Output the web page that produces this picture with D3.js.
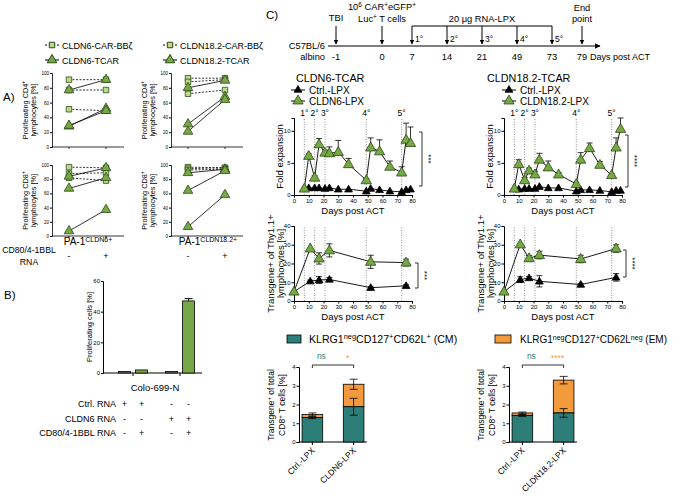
<!DOCTYPE html>
<html>
<head>
<meta charset="utf-8">
<script src="https://cdn.jsdelivr.net/npm/d3@7"></script>
<style>
  body { margin: 0; background: #fff; }
  svg { font-family: 'Liberation Sans', Arial, sans-serif; }
</style>
</head>
<body>
<script>
// ---------- Panel A data: [before, after] per donor ----------
const aCd4Cldn6Car = [[91, 91], [77, 77], [51, 49]];
const aCd4Cldn6Tcar = [[77, 91], [28, 52], [29, 49]];
const aCd4Cldn18Car = [[93, 93], [88, 91], [72, 77]];
const aCd4Cldn18Tcar = [[80, 90], [31, 68], [21, 64]];
const aCd8Cldn6Car = [[97, 96], [88, 89], [82, 78]];
const aCd8Cldn6Tcar = [[84, 96], [67, 82], [7, 37]];
const aCd8Cldn18Car = [[97, 96], [95, 96], [93, 94]];
const aCd8Cldn18Tcar = [[89, 94], [64, 92], [13, 58]];
const aTicks = [0, 20, 40, 60, 80, 100];

// ---------- Panel B data ----------
const bGroups = ['Ctrl', 'CLDN6'];
const bCostim = ['-', '+'];
const bValues = [[1.0, 2.0], [1.0, 47.0]];
const bErrors = [[0.2, 0.3], [0.3, 1.5]];
const bRowLabels = ['Ctrl. RNA', 'CLDN6 RNA', 'CD80/4-1BBL RNA'];
const bRowSigns = [['+', '+', '-', '-'], ['-', '-', '+', '+'], ['-', '+', '-', '+']];

// ---------- Panel C timeline ----------
const tlDays = ['-1', '0', '7', '14', '21', '49', '73', '79'];
const tlDoses = ['7', '14', '21', '49', '73'];
const tlDoseLabels = ['1°', '2°', '3°', '4°', '5°'];

// ---------- Panel C fold expansion ----------
const foldDays = [7, 10, 14, 17, 21, 24, 30, 37, 49, 52, 58, 65, 73, 76, 79];
const foldCldn6 = [1.0, 6.1, 2.7, 7.9, 6.6, 6.5, 6.7, 4.8, 2.3, 7.4, 6.8, 4.4, 3.5, 8.6, 8.1];
const foldCldn6Sd = [0, 0.3, 0.3, 0.9, 0.4, 1.0, 1.8, 0.9, 0.3, 1.5, 1.8, 0.9, 0.9, 2.6, 2.5];
const foldCtrl6 = [1.0, 1.1, 1.1, 1.1, 1.0, 1.1, 0.9, 0.9, 0.6, 1.0, 0.8, 0.6, 0.5, 0.8, 0.9];
const foldCldn18 = [1.0, 4.8, 2.3, 3.8, 3.2, 5.5, 4.3, 3.2, 1.7, 5.5, 7.3, 4.7, 3.1, 7.4, 10.3];
const foldCldn18Sd = [0, 0.7, 0.4, 0.4, 0.5, 1.0, 1.0, 0.3, 0.3, 1.1, 0.8, 0.5, 0.2, 1.5, 1.7];
const foldCtrl18 = [1.0, 0.9, 1.0, 1.0, 1.0, 1.3, 1.1, 1.1, 0.6, 0.8, 0.8, 0.7, 0.5, 0.7, 0.7];
const vlineDays = [7, 14, 21, 49, 73];

// ---------- Panel C transgene+ ----------
const tgDays = [0, 11, 17, 24, 52, 76];
const tgCldn6 = [5, 28, 22.7, 27, 20.9, 20.5];
const tgCldn6Sd = [0, 0, 3, 3.5, 3.5, 1.8];
const tgCtrl6 = [5, 10.6, 11.2, 11.5, 7.1, 8.1];
const tgCtrl6Sd = [0, 0.5, 1.8, 1, 0.5, 0.6];
const tgCldn18 = [5, 30.2, 22.8, 24.5, 22.4, 28];
const tgCldn18Sd = [0, 0, 1.5, 2, 2, 2];
const tgCtrl18 = [5, 11.4, 12.3, 10.5, 8.8, 12.6];
const tgCtrl18Sd = [0, 1.5, 0.8, 3, 0.6, 2];

// ---------- Panel C memory subsets ----------
const memCats6 = ['Ctrl.-LPX', 'CLDN6-LPX'];
const memCats18 = ['Ctrl.-LPX', 'CLDN18.2-LPX'];
const cm6 = [1.3, 1.88];
const cm6Sd = [0.05, 0.45];
const em6 = [0.17, 1.2];
const em6Sd = [0.08, 0.27];
const cm18 = [1.42, 1.55];
const cm18Sd = [0.05, 0.23];
const em18 = [0.13, 1.75];
const em18Sd = [0.05, 0.2];

const GREEN = '#76a845', LIGHTGREEN = '#bcd98c', DARK = '#2c4a14';
const TEAL = '#2d7e78', ORANGE = '#f39b3c';

const svg = d3.select('body').append('svg').attr('width', 680).attr('height', 498);

// text with superscript parts: [[text, 'sup'?], ...]
function rich(g, x, y, parts, size, anchor, rotate) {
    const t = g.append('text').attr('x', x).attr('y', y)
        .attr('font-size', size).attr('text-anchor', anchor || 'start');
    if (rotate) t.attr('transform', `rotate(${rotate},${x},${y})`);
    parts.forEach(p => {
        const s = t.append('tspan').text(p[0]);
        if (p[1] === 'sup') s.attr('baseline-shift', 'super').attr('font-size', size * 0.7);
    });
    return t;
}

function tri(size) { return d3.symbol(d3.symbolTriangle, size)(); }
function sqr(size) { return d3.symbol(d3.symbolSquare, size)(); }
const fmtInt = d3.format('d');

// ================= PANEL A =================
svg.append('text').attr('x', 3).attr('y', 101).attr('font-size', 11.5).text('A)');

function legendA(x, y, name) {
    const g = svg.append('g');
    g.append('line').attr('x1', x - 7).attr('x2', x + 7).attr('y1', y).attr('y2', y)
        .attr('stroke', '#000').attr('stroke-dasharray', '2,2');
    g.append('path').attr('d', sqr(30)).attr('transform', `translate(${x},${y})`)
        .attr('fill', LIGHTGREEN).attr('stroke', DARK);
    g.append('text').attr('x', x + 10).attr('y', y + 3.5).attr('font-size', 9).text(name + '-CAR-BBζ');
    g.append('line').attr('x1', x - 7).attr('x2', x + 7).attr('y1', y + 15).attr('y2', y + 15).attr('stroke', '#000');
    g.append('path').attr('d', tri(40)).attr('transform', `translate(${x},${y + 15})`)
        .attr('fill', GREEN).attr('stroke', DARK);
    g.append('text').attr('x', x + 10).attr('y', y + 18.5).attr('font-size', 9).text(name + '-TCAR');
}
legendA(52, 45, 'CLDN6');
legendA(170, 45, 'CLDN18.2');

function pairPlot(ax, yTop, yBot, carData, tcarData, cd) {
    const g = svg.append('g');
    const y = d3.scaleLinear().domain([0, 100]).range([yBot, yTop]);
    const x = d3.scalePoint().domain(['-', '+']).range([ax + 17, ax + 54]);
    g.append('g').attr('transform', `translate(${ax},0)`)
        .call(d3.axisLeft(y).tickValues(aTicks).tickFormat(fmtInt).tickSize(2).tickPadding(1))
        .call(s => s.selectAll('text').attr('font-size', 4.5).attr('font-family', 'Liberation Sans, Arial'))
        .call(s => s.select('.domain').attr('stroke-width', 0.8));
    g.append('line').attr('x1', ax).attr('x2', ax + 72).attr('y1', yBot).attr('y2', yBot)
        .attr('stroke', '#000').attr('stroke-width', 0.8);
    ['-', '+'].forEach(k => g.append('line').attr('x1', x(k)).attr('x2', x(k))
        .attr('y1', yBot).attr('y2', yBot + 2).attr('stroke', '#000').attr('stroke-width', 0.8));
    carData.forEach(d => g.append('line').attr('x1', x('-')).attr('x2', x('+'))
        .attr('y1', y(d[0])).attr('y2', y(d[1])).attr('stroke', '#000').attr('stroke-width', 0.8)
        .attr('stroke-dasharray', '2,1.5'));
    tcarData.forEach(d => g.append('line').attr('x1', x('-')).attr('x2', x('+'))
        .attr('y1', y(d[0])).attr('y2', y(d[1])).attr('stroke', '#000').attr('stroke-width', 0.8));
    carData.forEach(d => ['-', '+'].forEach((k, i) => g.append('path').attr('d', sqr(30))
        .attr('transform', `translate(${x(k)},${y(d[i])})`).attr('fill', LIGHTGREEN).attr('stroke', DARK).attr('stroke-width', 0.8)));
    tcarData.forEach(d => ['-', '+'].forEach((k, i) => g.append('path').attr('d', tri(40))
        .attr('transform', `translate(${x(k)},${y(d[i])})`).attr('fill', GREEN).attr('stroke', DARK).attr('stroke-width', 0.8)));
    const cy = (yTop + yBot) / 2;
    rich(g, ax - 24, cy, [['Proliferating CD' + cd], ['+', 'sup']], 7.3, 'middle', -90);
    rich(g, ax - 16, cy, [['lymphocytes [%]']], 7.3, 'middle', -90);
    return x;
}
const xA1 = pairPlot(52, 73, 147, aCd4Cldn6Car, aCd4Cldn6Tcar, '4');
const xA2 = pairPlot(171, 73, 147, aCd4Cldn18Car, aCd4Cldn18Tcar, '4');
pairPlot(52, 165, 236, aCd8Cldn6Car, aCd8Cldn6Tcar, '8');
pairPlot(171, 165, 236, aCd8Cldn18Car, aCd8Cldn18Tcar, '8');

rich(svg, 88, 245, [['PA-1'], ['CLDN6+', 'sup']], 10, 'middle');
rich(svg, 208, 245, [['PA-1'], ['CLDN18.2+', 'sup']], 10, 'middle');
svg.append('text').attr('x', 29).attr('y', 253).attr('font-size', 8.7).attr('text-anchor', 'middle').text('CD80/4-1BBL');
svg.append('text').attr('x', 29).attr('y', 265).attr('font-size', 8.7).attr('text-anchor', 'middle').text('RNA');
[xA1, xA2].forEach(x => ['-', '+'].forEach(k => svg.append('text').attr('x', x(k)).attr('y', 259)
    .attr('font-size', 9).attr('text-anchor', 'middle').text(k)));

// ================= PANEL B =================
svg.append('text').attr('x', 4).attr('y', 299).attr('font-size', 11.5).text('B)');
(function () {
    const g = svg.append('g');
    const y = d3.scaleLinear().domain([0, 60]).range([373, 281]);
    const xg = d3.scalePoint().domain(bGroups).range([133, 180]);
    const xi = d3.scaleBand().domain(bCostim).range([-14.5, 14.5]).paddingInner(0.3);
    g.append('g').attr('transform', 'translate(103,0)')
        .call(d3.axisLeft(y).tickValues([0, 20, 40, 60]).tickFormat(fmtInt).tickSize(2).tickPadding(1))
        .call(s => s.selectAll('text').attr('font-size', 6).attr('font-family', 'Liberation Sans, Arial'));
    g.append('line').attr('x1', 103).attr('x2', 202).attr('y1', 373).attr('y2', 373).attr('stroke', '#000');
    bGroups.forEach(k => g.append('line').attr('x1', xg(k)).attr('x2', xg(k)).attr('y1', 373).attr('y2', 376).attr('stroke', '#000'));
    bGroups.forEach((grp, gi) => bCostim.forEach((c, ci) => {
        const v = bValues[gi][ci], e = bErrors[gi][ci];
        const x0 = xg(grp) + xi(c), w = xi.bandwidth();
        g.append('rect').attr('x', x0).attr('y', y(v)).attr('width', w).attr('height', y(0) - y(v))
            .attr('fill', ci ? GREEN : '#777').attr('stroke', '#000').attr('stroke-width', 0.8);
        if (v > 5) {
            g.append('line').attr('x1', x0 + w / 2).attr('x2', x0 + w / 2).attr('y1', y(v)).attr('y2', y(v + e)).attr('stroke', '#000');
            g.append('line').attr('x1', x0 + 2).attr('x2', x0 + w - 2).attr('y1', y(v + e)).attr('y2', y(v + e)).attr('stroke', '#000');
        }
    }));
    g.append('text').attr('x', 92).attr('y', 327).attr('font-size', 7.5).attr('text-anchor', 'middle')
        .attr('transform', 'rotate(-90,92,327)').text('Proliferating cells [%]');
    g.append('text').attr('x', 155).attr('y', 391).attr('font-size', 9.5).attr('text-anchor', 'middle').text('Colo-699-N');
    bRowLabels.forEach((lab, r) => {
        const yy = 407 + r * 14.5;
        g.append('text').attr('x', 116).attr('y', yy).attr('font-size', 9).attr('text-anchor', 'end').text(lab);
        bRowSigns[r].forEach((s, i) => {
            const grp = bGroups[Math.floor(i / 2)], c = bCostim[i % 2];
            g.append('text').attr('x', xg(grp) + xi(c) + xi.bandwidth() / 2).attr('y', yy)
                .attr('font-size', 9).attr('text-anchor', 'middle').text(s);
        });
    });
})();

// ================= PANEL C timeline =================
svg.append('text').attr('x', 266).attr('y', 19).attr('font-size', 11.5).text('C)');
(function () {
    const g = svg.append('g');
    const defs = svg.append('defs');
    defs.append('marker').attr('id', 'ah').attr('viewBox', '0 0 10 10').attr('refX', 9).attr('refY', 5)
        .attr('markerWidth', 5).attr('markerHeight', 5).attr('orient', 'auto')
        .append('path').attr('d', 'M0,0L10,5L0,10z').attr('fill', '#000');
    const tx = d3.scaleLinear().domain([0, 1, 2, 6, 7]).range([336, 382, 412, 552, 582]);
    const x = d => tx(tlDays.indexOf(d));
    const fs = 9.3;
    g.append('line').attr('x1', 328).attr('x2', 600).attr('y1', 46).attr('y2', 46)
        .attr('stroke', '#000').attr('stroke-width', 1.2).attr('marker-end', 'url(#ah)');
    g.append('text').attr('x', 325).attr('y', 49).attr('font-size', fs).attr('text-anchor', 'end').text('C57BL/6');
    g.append('text').attr('x', 325).attr('y', 60).attr('font-size', fs).attr('text-anchor', 'end').text('albino');
    tlDays.forEach(d => g.append('text').attr('x', x(d)).attr('y', 60).attr('font-size', fs)
        .attr('text-anchor', 'middle').text(d));
    g.append('text').attr('x', 590).attr('y', 60).attr('font-size', 9).text('Days post ACT');
    const down = (xx, y1) => g.append('line').attr('x1', xx).attr('x2', xx).attr('y1', y1).attr('y2', 44)
        .attr('stroke', '#000').attr('marker-end', 'url(#ah)');
    down(x('-1'), 26); down(x('0'), 26); down(x('79'), 26);
    g.append('text').attr('x', x('-1')).attr('y', 21).attr('font-size', fs).attr('text-anchor', 'middle').text('TBI');
    rich(g, x('0'), 10, [['10'], ['6', 'sup'], [' CAR'], ['+', 'sup'], ['eGFP'], ['+', 'sup']], fs, 'middle');
    rich(g, x('0'), 22, [['Luc'], ['+', 'sup'], [' T cells']], fs, 'middle');
    g.append('text').attr('x', x('79')).attr('y', 11).attr('font-size', fs).attr('text-anchor', 'middle').text('End');
    g.append('text').attr('x', x('79')).attr('y', 22).attr('font-size', fs).attr('text-anchor', 'middle').text('point');
    g.append('line').attr('x1', x('7')).attr('x2', x('73')).attr('y1', 26).attr('y2', 26).attr('stroke', '#000');
    g.append('text').attr('x', (x('7') + x('73')) / 2).attr('y', 22).attr('font-size', fs).attr('text-anchor', 'middle').text('20 μg RNA-LPX');
    tlDoses.forEach((d, i) => {
        g.append('line').attr('x1', x(d)).attr('x2', x(d)).attr('y1', 26).attr('y2', 44)
            .attr('stroke', '#000').attr('marker-end', 'url(#ah)');
        g.append('text').attr('x', x(d) + 3).attr('y', 42).attr('font-size', 8.5).text(tlDoseLabels[i]);
    });
})();

// ================= PANEL C line charts =================
function lineChart(cfg) {
    const g = svg.append('g');
    const x = d3.scaleLinear().domain([0, 80]).range([cfg.xl, cfg.xl + 118]);
    const y = d3.scaleLinear().domain(cfg.yDomain).range([cfg.y0, cfg.yTop]);
    vlineDays.forEach(d => g.append('line').attr('x1', x(d)).attr('x2', x(d)).attr('y1', cfg.y0).attr('y2', cfg.vTop)
        .attr('stroke', '#777').attr('stroke-width', 0.8).attr('stroke-dasharray', '1,1.5'));
    if (cfg.doseLabels) vlineDays.forEach((d, i) => g.append('text').attr('x', x(d)).attr('y', cfg.vTop - 2)
        .attr('font-size', 8.5).attr('text-anchor', 'middle').text(tlDoseLabels[i]));
    g.append('g').attr('transform', `translate(${cfg.xl},0)`)
        .call(d3.axisLeft(y).tickValues(cfg.yTicks).tickFormat(fmtInt).tickSize(2.5).tickPadding(1))
        .call(s => s.selectAll('text').attr('font-size', 6).attr('font-family', 'Liberation Sans, Arial'));
    g.append('g').attr('transform', `translate(0,${cfg.y0})`)
        .call(d3.axisBottom(x).tickValues(d3.range(0, 81, 10)).tickFormat(fmtInt).tickSize(2.5).tickPadding(1))
        .call(s => s.selectAll('text').attr('font-size', 6).attr('font-family', 'Liberation Sans, Arial'));
    g.append('text').attr('x', x(40)).attr('y', cfg.y0 + 19).attr('font-size', 9.5).attr('text-anchor', 'middle').text('Days post ACT');
    const line = d3.line().x(d => x(d[0])).y(d => y(d[1]));
    const series = [[cfg.black, cfg.blackSd, '#000', 26], [cfg.green, cfg.greenSd, GREEN, 46]];
    series.forEach(([vals]) => {
        const pts = cfg.days.map((d, i) => [d, vals[i]]);
        g.append('path').attr('d', line(pts)).attr('fill', 'none').attr('stroke', '#000').attr('stroke-width', 0.9);
    });
    series.forEach(([vals, sd]) => {
        if (!sd) return;
        cfg.days.forEach((d, i) => {
            if (!sd[i]) return;
            const lo = cfg.both ? vals[i] - sd[i] : vals[i];
            const hi = vals[i] + sd[i];
            g.append('line').attr('x1', x(d)).attr('x2', x(d)).attr('y1', y(lo)).attr('y2', y(hi)).attr('stroke', '#000').attr('stroke-width', 0.8);
            g.append('line').attr('x1', x(d) - 3).attr('x2', x(d) + 3).attr('y1', y(hi)).attr('y2', y(hi)).attr('stroke', '#000').attr('stroke-width', 0.8);
            if (cfg.both) g.append('line').attr('x1', x(d) - 3).attr('x2', x(d) + 3).attr('y1', y(lo)).attr('y2', y(lo)).attr('stroke', '#000').attr('stroke-width', 0.8);
        });
    });
    series.forEach(([vals, sd, col, sz]) => {
        cfg.days.forEach((d, i) => g.append('path').attr('d', tri(sz))
            .attr('transform', `translate(${x(d)},${y(vals[i]) + 0.5})`)
            .attr('fill', col).attr('stroke', col === '#000' ? '#000' : DARK).attr('stroke-width', 0.8));
    });
    // significance bracket
    const bx = cfg.xl + 118 + cfg.sigGap;
    g.append('path').attr('d', `M${bx - 3},${cfg.sig[0]}H${bx}V${cfg.sig[1]}H${bx - 3}`)
        .attr('fill', 'none').attr('stroke', '#000').attr('stroke-width', 0.8);
    const my = (cfg.sig[0] + cfg.sig[1]) / 2;
    g.append('text').attr('x', bx + 4).attr('y', my).attr('font-size', 8).attr('text-anchor', 'middle')
        .attr('transform', `rotate(90,${bx + 4},${my})`).text(cfg.stars);
    // y label
    const cy = (cfg.y0 + cfg.yTop) / 2;
    cfg.ylab.forEach((txt, i) => g.append('text').attr('x', cfg.ylabX[i]).attr('y', cy)
        .attr('font-size', 9.5).attr('text-anchor', 'middle')
        .attr('transform', `rotate(-90,${cfg.ylabX[i]},${cy})`).text(txt));
}

// titles + legends
svg.append('text').attr('x', 296).attr('y', 82).attr('font-size', 10.8).text('CLDN6-TCAR');
svg.append('text').attr('x', 487).attr('y', 82).attr('font-size', 10.8).text('CLDN18.2-TCAR');
function legendC(x, name) {
    [['Ctrl.-LPX', '#000', 26, 90], [name, GREEN, 46, 101]].forEach(([lab, col, sz, yy]) => {
        svg.append('line').attr('x1', x - 7).attr('x2', x + 7).attr('y1', yy).attr('y2', yy).attr('stroke', '#000');
        svg.append('path').attr('d', tri(sz)).attr('transform', `translate(${x},${yy})`)
            .attr('fill', col).attr('stroke', col === '#000' ? '#000' : DARK).attr('stroke-width', 0.8);
        svg.append('text').attr('x', x + 11).attr('y', yy + 3.5).attr('font-size', 10).text(lab);
    });
}
legendC(298, 'CLDN6-LPX');
legendC(509, 'CLDN18.2-LPX');

lineChart({ xl: 294, y0: 195, yTop: 118, vTop: 118, yDomain: [0, 12], yTicks: [0, 5, 10], doseLabels: true,
    days: foldDays, green: foldCldn6, greenSd: foldCldn6Sd, black: foldCtrl6, blackSd: null, both: false,
    sig: [132, 186], sigGap: 10, stars: '***', ylab: ['Fold expansion'], ylabX: [283] });
lineChart({ xl: 504, y0: 195, yTop: 118, vTop: 118, yDomain: [0, 12], yTicks: [0, 5, 10], doseLabels: true,
    days: foldDays, green: foldCldn18, greenSd: foldCldn18Sd, black: foldCtrl18, blackSd: null, both: false,
    sig: [135, 187], sigGap: 6, stars: '****', ylab: ['Fold expansion'], ylabX: [493] });
const tgLab = ['Transgene+ of Thy1.1+', 'lymphocytes [%]'];
lineChart({ xl: 294, y0: 301, yTop: 226, vTop: 226, yDomain: [0, 40], yTicks: [0, 10, 20, 30, 40], doseLabels: false,
    days: tgDays, green: tgCldn6, greenSd: tgCldn6Sd, black: tgCtrl6, blackSd: tgCtrl6Sd, both: true,
    sig: [263, 288], sigGap: 6, stars: '***', ylab: tgLab, ylabX: [274, 284] });
lineChart({ xl: 504, y0: 301, yTop: 226, vTop: 226, yDomain: [0, 40], yTicks: [0, 10, 20, 30, 40], doseLabels: false,
    days: tgDays, green: tgCldn18, greenSd: tgCldn18Sd, black: tgCtrl18, blackSd: tgCtrl18Sd, both: true,
    sig: [250, 277], sigGap: 4, stars: '****', ylab: tgLab, ylabX: [484, 494] });

// ================= PANEL C stacked bars =================
function stackChart(cfg) {
    const g = svg.append('g');
    const y = d3.scaleLinear().domain([0, 4]).range([442, 367]);
    const x = d3.scaleBand().domain(cfg.cats).range([cfg.ax + 1, cfg.ax + 67]).paddingInner(0.5).paddingOuter(0.05);
    g.append('g').attr('transform', `translate(${cfg.ax},0)`)
        .call(d3.axisLeft(y).tickValues([0, 1, 2, 3, 4]).tickFormat(fmtInt).tickSize(2.5).tickPadding(1))
        .call(s => s.selectAll('text').attr('font-size', 6).attr('font-family', 'Liberation Sans, Arial'));
    g.append('line').attr('x1', cfg.ax).attr('x2', cfg.ax + 68).attr('y1', 442).attr('y2', 442).attr('stroke', '#000');
    cfg.cats.forEach((c, i) => {
        const x0 = x(c), w = x.bandwidth(), cx = x0 + w / 2;
        g.append('line').attr('x1', cx).attr('x2', cx).attr('y1', 442).attr('y2', 445).attr('stroke', '#000');
        const tot = cfg.cm[i] + cfg.em[i];
        g.append('rect').attr('x', x0).attr('y', y(tot)).attr('width', w).attr('height', y(cfg.cm[i]) - y(tot))
            .attr('fill', ORANGE).attr('stroke', '#000').attr('stroke-width', 0.8);
        g.append('rect').attr('x', x0).attr('y', y(cfg.cm[i])).attr('width', w).attr('height', y(0) - y(cfg.cm[i]))
            .attr('fill', TEAL).attr('stroke', '#000').attr('stroke-width', 0.8);
        [[cfg.cm[i], cfg.cmSd[i]], [tot, cfg.emSd[i]]].forEach(([v, e]) => {
            g.append('line').attr('x1', cx).attr('x2', cx).attr('y1', y(v - e)).attr('y2', y(v + e)).attr('stroke', '#000').attr('stroke-width', 0.8);
            g.append('line').attr('x1', cx - 4).attr('x2', cx + 4).attr('y1', y(v + e)).attr('y2', y(v + e)).attr('stroke', '#000').attr('stroke-width', 0.8);
            g.append('line').attr('x1', cx - 4).attr('x2', cx + 4).attr('y1', y(v - e)).attr('y2', y(v - e)).attr('stroke', '#000').attr('stroke-width', 0.8);
        });
        g.append('text').attr('x', cx + 3).attr('y', 451).attr('font-size', 8.5).attr('text-anchor', 'end')
            .attr('transform', `rotate(-45,${cx + 3},451)`).text(c);
    });
    const c1 = x(cfg.cats[0]) + x.bandwidth() / 2, c2 = x(cfg.cats[1]) + x.bandwidth() / 2;
    g.append('path').attr('d', `M${c1},368V365H${c2}V368`).attr('fill', 'none').attr('stroke', '#000').attr('stroke-width', 0.8);
    g.append('text').attr('x', c1 + 9).attr('y', 359).attr('font-size', 8.5).attr('fill', TEAL).attr('text-anchor', 'middle').text('ns');
    g.append('text').attr('x', c2 - 6).attr('y', 361).attr('font-size', 8.5).attr('fill', ORANGE).attr('text-anchor', 'middle').text(cfg.stars);
    rich(g, cfg.ax - 25, 405, [['Transgene'], ['+', 'sup'], [' of total']], 8.5, 'middle', -90);
    rich(g, cfg.ax - 14, 405, [['CD8'], ['+', 'sup'], [' T cells [%]']], 8.5, 'middle', -90);
}
stackChart({ ax: 299, cats: memCats6, cm: cm6, cmSd: cm6Sd, em: em6, emSd: em6Sd, stars: '*' });
stackChart({ ax: 509, cats: memCats18, cm: cm18, cmSd: cm18Sd, em: em18, emSd: em18Sd, stars: '****' });

svg.append('rect').attr('x', 287).attr('y', 335).attr('width', 14).attr('height', 8).attr('fill', TEAL).attr('stroke', '#000').attr('stroke-width', 0.8);
rich(svg, 309, 343, [['KLRG1'], ['neg', 'sup'], ['CD127'], ['+', 'sup'], ['CD62L'], ['+', 'sup'], [' (CM)']], 10.6, 'start');
svg.append('rect').attr('x', 495).attr('y', 335).attr('width', 16).attr('height', 8).attr('fill', ORANGE).attr('stroke', '#000').attr('stroke-width', 0.8);
rich(svg, 520, 343, [['KLRG1'], ['neg', 'sup'], ['CD127'], ['+', 'sup'], ['CD62L'], ['neg', 'sup'], [' (EM)']], 10, 'start');
</script>
</body>
</html>
